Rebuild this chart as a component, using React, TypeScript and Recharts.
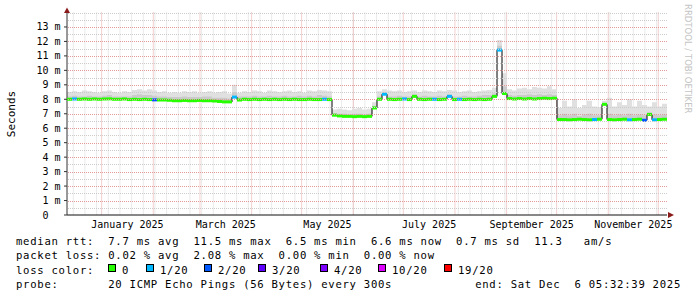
import { Area, CartesianGrid, ComposedChart, Line, Scatter, XAxis, YAxis } from "recharts";

const W = 697;
const H = 297;
const PLOT_L = 67;
const PLOT_R = 667;
const PLOT_T = 12.5;
const PLOT_B = 215;
const X_AXIS_H = 30;
const Y_MAX = 14;
const SPAN_DAYS = 360;
const STEP_DAYS = 3;
const STEP_PX = (STEP_DAYS * (PLOT_R - PLOT_L)) / SPAN_DAYS;
const START = Date.UTC(2024, 11, 11, 5, 32, 39);
const DAY_MS = 86400000;
const MONO = "'DejaVu Sans Mono', monospace";

// median rtt (ms), one sample every 3 days from the graph start
const median = [
  8.0, 8.02, 8.0, 8.02, 8.0, 8.02, 8.0, 8.02, 8.03, 8.0,
  8.0, 8.02, 7.98, 8.0, 7.98, 8.0, 7.98, 7.96, 7.95, 7.95,
  7.93, 7.9, 7.9, 7.92, 7.9, 7.9, 7.92, 7.9, 7.9, 7.88,
  7.85, 7.82, 7.82, 8.15, 7.95, 8.0, 7.98, 8.0, 7.98, 8.0,
  7.98, 8.0, 7.98, 8.0, 7.98, 8.0, 7.98, 7.98, 8.0, 7.98,
  7.98, 8.0, 7.98, 6.9, 6.85, 6.82, 6.82, 6.8, 6.82, 6.8,
  6.82, 7.4, 8.0, 8.35, 8.0, 7.98, 8.0, 8.02, 7.98, 8.2,
  8.0, 7.98, 8.0, 8.0, 7.98, 8.0, 8.2, 7.98, 8.0, 7.98,
  8.0, 7.98, 8.0, 7.98, 8.0, 8.2, 11.4, 8.4, 8.05, 8.02,
  8.05, 8.02, 8.05, 8.02, 8.05, 8.07, 8.05, 8.07, 6.6, 6.6,
  6.58, 6.6, 6.62, 6.6, 6.58, 6.6, 6.62, 7.65, 6.6, 6.58,
  6.6, 6.62, 6.58, 6.6, 6.62, 6.55, 6.95, 6.58, 6.6, 6.62,
  6.6,
];

// top of the light smoke (slowest pings)
const smokeHi = [
  8.5, 8.55, 8.5, 8.6, 8.55, 8.5, 8.45, 8.55, 8.6, 8.5,
  8.45, 8.55, 8.5, 8.65, 8.7, 8.6, 8.7, 8.6, 8.5, 8.55,
  8.45, 8.5, 8.45, 8.55, 8.5, 8.55, 8.45, 8.5, 8.55, 8.45,
  8.5, 8.55, 8.4, 9.0, 8.45, 8.55, 8.5, 8.6, 8.55, 8.45,
  8.6, 8.55, 8.5, 8.55, 8.6, 8.5, 8.55, 8.45, 8.6, 8.55,
  8.65, 8.6, 8.55, 7.3, 7.35, 7.3, 7.25, 7.35, 7.4, 7.3,
  7.35, 7.8, 8.55, 8.7, 8.6, 8.55, 8.6, 8.5, 8.55, 8.6,
  8.5, 8.6, 8.55, 8.5, 8.6, 8.55, 8.65, 8.6, 8.5, 8.55,
  8.6, 8.5, 8.55, 8.6, 8.65, 8.8, 12.1, 9.8, 8.7, 8.6,
  8.75, 8.8, 8.7, 8.85, 8.8, 8.75, 8.9, 8.7, 7.4, 7.9,
  7.5, 8.0, 7.4, 7.6, 7.9, 7.5, 7.45, 7.9, 8.1, 7.5,
  7.8, 7.6, 8.0, 7.5, 7.9, 7.6, 7.5, 7.8, 7.5, 7.7,
  7.5,
];

// top of the darker inner smoke
const smokeMid = [
  8.2, 8.25, 8.2, 8.2, 8.25, 8.2, 8.2, 8.25, 8.3, 8.2,
  8.2, 8.2, 8.2, 8.3, 8.35, 8.3, 8.3, 8.25, 8.2, 8.2,
  8.15, 8.15, 8.15, 8.2, 8.15, 8.15, 8.15, 8.2, 8.2, 8.1,
  8.1, 8.1, 8.05, 8.5, 8.2, 8.2, 8.2, 8.25, 8.2, 8.2,
  8.25, 8.2, 8.2, 8.25, 8.2, 8.2, 8.25, 8.2, 8.25, 8.2,
  8.3, 8.25, 8.2, 7.05, 7.0, 7.0, 6.95, 7.0, 7.0, 6.95,
  7.0, 7.55, 8.2, 8.5, 8.2, 8.2, 8.25, 8.2, 8.2, 8.35,
  8.2, 8.25, 8.2, 8.2, 8.25, 8.2, 8.35, 8.2, 8.2, 8.25,
  8.2, 8.2, 8.25, 8.3, 8.3, 8.4, 11.7, 8.9, 8.3, 8.25,
  8.3, 8.3, 8.35, 8.3, 8.35, 8.3, 8.35, 8.3, 6.9, 7.0,
  6.9, 7.0, 6.85, 6.95, 7.0, 6.9, 6.9, 7.7, 7.0, 6.9,
  6.95, 6.9, 7.0, 6.9, 6.95, 6.9, 7.1, 6.95, 6.9, 6.95,
  6.9,
];

// [sample index, loss level index]
const lossPoints: [number, number][] = [
  [1, 1], [17, 2], [33, 1], [51, 1], [63, 1], [67, 1], [73, 1],
  [76, 1], [78, 1], [86, 1], [105, 1], [112, 1], [115, 2], [117, 1],
];

const lossLabels = ["0", "1/20", "2/20", "3/20", "4/20", "10/20", "19/20"];
const lossColors = ["#26ff00", "#00b8ff", "#0059ff", "#5e00ff", "#7e00ff", "#dd00ff", "#ff0000"];

const monthLabels = ["January 2025", "March 2025", "May 2025", "July 2025", "September 2025", "November 2025"];
const labelMonths = [0, 2, 4, 6, 8, 10];
const yTicks = [0, 1, 2, 3, 4, 5, 6, 7, 8, 9, 10, 11, 12, 13];

const toDay = (ms: number) => (ms - START) / DAY_MS;

const monthStarts: number[] = [];
for (let m = 0; m < 12; m++) monthStarts.push(toDay(Date.UTC(2025, m, 1)));

const weekLines: number[] = [];
for (let t = Date.UTC(2024, 11, 15); toDay(t) < SPAN_DAYS; t += 7 * DAY_MS) weekLines.push(toDay(t));

const labelDays = labelMonths.map((m) => (toDay(Date.UTC(2025, m, 1)) + toDay(Date.UTC(2025, m + 1, 1))) / 2);

const minorY: number[] = [];
for (let v = 0.5; v <= Y_MAX; v += 0.5) if (v % 1 !== 0 || v === Y_MAX) minorY.push(v);
const majorY = yTicks.slice(1);

const lossByIndex = new Map(lossPoints);
const data = median.map((m, i) => ({
  day: i * STEP_DAYS,
  median: m,
  hi: smokeHi[i],
  mid: smokeMid[i],
  loss: lossByIndex.get(i) ?? 0,
}));

// pixel row of a grid value on the linear 0..Y_MAX axis
const rowY = (v: number) => Math.round(PLOT_T + (PLOT_B - PLOT_T) * (1 - v / Y_MAX)) + 0.5;

function YTick(props: any) {
  const v = props.payload.value;
  return (
    <text
      x={v === 0 ? PLOT_L - 18.5 : PLOT_L - 6.5}
      y={props.y}
      dy="0.35em"
      textAnchor="end"
      fontFamily={MONO}
      fontSize={10}
      fill="#000"
    >
      {v === 0 ? "0" : `${v} m`}
    </text>
  );
}

function XTick(props: any) {
  const idx = labelDays.indexOf(props.payload.value);
  return (
    <text x={props.x} y={PLOT_B + 13} textAnchor="middle" fontFamily={MONO} fontSize={10} fill="#000">
      {monthLabels[idx]}
    </text>
  );
}

function MedianDash(props: any) {
  const { cx, cy, payload } = props;
  if (payload.day >= SPAN_DAYS) return <g />;
  return <rect x={cx} y={cy - 1.5} width={STEP_PX} height={3} fill={lossColors[payload.loss]} />;
}

const legendText = {
  fontFamily: MONO,
  fontSize: 10.6,
  letterSpacing: 0.72,
  fill: "#000",
  whiteSpace: "pre" as const,
};

const boxX = [108, 146, 204, 258, 320, 378, 444];

export default function App() {
  return (
    <div style={{ position: "absolute", left: 0, top: 0, width: W, height: H, background: "#fff" }}>
      <ComposedChart
        width={W}
        height={H}
        data={data}
        margin={{ top: PLOT_T, right: W - PLOT_R, bottom: H - PLOT_B - X_AXIS_H, left: 0 }}
        style={{ position: "absolute", left: 0, top: 0 }}
      >
        <CartesianGrid horizontal={false} verticalValues={weekLines} stroke="#d4d4d4" strokeDasharray="1 1" />
        <CartesianGrid horizontal={false} verticalValues={monthStarts} stroke="#e6a0a0" strokeDasharray="1 1" />
        <XAxis
          type="number"
          dataKey="day"
          domain={[0, SPAN_DAYS]}
          ticks={labelDays}
          interval={0}
          height={X_AXIS_H}
          tick={<XTick />}
          tickLine={false}
          axisLine={{ stroke: "#111" }}
          allowDataOverflow
        />
        <YAxis
          type="number"
          domain={[0, Y_MAX]}
          ticks={yTicks}
          interval={0}
          width={PLOT_L}
          tick={<YTick />}
          tickSize={3}
          tickLine={{ stroke: "#333" }}
          axisLine={{ stroke: "#333" }}
          allowDataOverflow
        />
        <Area
          type="stepAfter"
          dataKey={(d: any) => [d.median, d.hi]}
          stroke="none"
          fill="#e0e0e0"
          fillOpacity={1}
          isAnimationActive={false}
        />
        <Area
          type="stepAfter"
          dataKey={(d: any) => [d.median, d.mid]}
          stroke="none"
          fill="#cbcbcb"
          fillOpacity={1}
          isAnimationActive={false}
        />
        <Line
          type="stepAfter"
          dataKey="median"
          stroke="#000"
          strokeWidth={1}
          dot={false}
          isAnimationActive={false}
        />
        <Scatter dataKey="median" shape={<MedianDash />} isAnimationActive={false} />
      </ComposedChart>
      <svg width={W} height={H} style={{ position: "absolute", left: 0, top: 0, pointerEvents: "none" }}>
        {minorY.map((v) => (
          <line
            key={`n${v}`}
            x1={PLOT_L + 1}
            x2={PLOT_R}
            y1={rowY(v)}
            y2={rowY(v)}
            stroke="#cccccc"
            strokeDasharray="1 1"
            shapeRendering="crispEdges"
          />
        ))}
        {majorY.map((v) => (
          <line
            key={`m${v}`}
            x1={PLOT_L + 1}
            x2={PLOT_R}
            y1={rowY(v)}
            y2={rowY(v)}
            stroke="#e39a9a"
            strokeDasharray="1 1"
            shapeRendering="crispEdges"
          />
        ))}
        <polygon points={`${PLOT_L - 3},${PLOT_T + 0.5} ${PLOT_L + 3},${PLOT_T + 0.5} ${PLOT_L},${PLOT_T - 5}`} fill="#8b1c1c" />
        <polygon points={`${PLOT_R + 1},${PLOT_B - 3} ${PLOT_R + 1},${PLOT_B + 3} ${PLOT_R + 7},${PLOT_B}`} fill="#8b1c1c" />
        <text
          x={15}
          y={114}
          transform="rotate(-90 15 114)"
          textAnchor="middle"
          fontFamily={MONO}
          fontSize={11}
          fill="#000"
        >
          Seconds
        </text>
        <text
          x={685}
          y={4}
          transform="rotate(90 685 4)"
          fontFamily="'DejaVu Sans', sans-serif"
          fontSize={8.5}
          fill="#c4c4c4"
        >
          RRDTOOL / TOBI OETIKER
        </text>
        <text x={16} y={244.5} style={legendText} xmlSpace="preserve">
          {"median rtt:  7.7 ms avg  11.5 ms max  6.5 ms min  6.6 ms now  0.7 ms sd  11.3   am/s"}
        </text>
        <text x={16} y={259} style={legendText} xmlSpace="preserve">
          {"packet loss: 0.02 % avg  2.08 % max  0.00 % min  0.00 % now"}
        </text>
        <text x={16} y={273.5} style={legendText} xmlSpace="preserve">
          {"loss color:"}
        </text>
        {lossLabels.map((label, i) => (
          <g key={label}>
            <rect x={boxX[i] + 0.5} y={264.5} width={7} height={7} fill={lossColors[i]} stroke="#000" strokeWidth={1} />
            <text x={boxX[i] + 14} y={273.5} style={legendText}>
              {label}
            </text>
          </g>
        ))}
        <text x={16} y={288} style={legendText} xmlSpace="preserve">
          {"probe:       20 ICMP Echo Pings (56 Bytes) every 300s"}
        </text>
        <text x={681} y={288} textAnchor="end" style={legendText} xmlSpace="preserve">
          {"end: Sat Dec  6 05:32:39 2025"}
        </text>
      </svg>
    </div>
  );
}
